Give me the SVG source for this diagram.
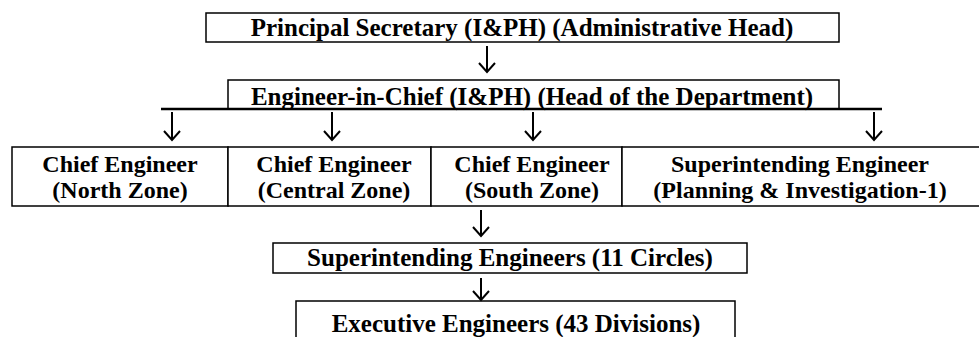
<svg xmlns="http://www.w3.org/2000/svg" width="979" height="337" viewBox="0 0 979 337">
<style>
.box{fill:#fff;stroke:#000;stroke-width:1.5}
.t{font-family:'Liberation Serif','Times New Roman','DejaVu Serif',serif;font-weight:bold;font-size:25px;fill:#000;text-anchor:middle}
.r{font-size:24px}
.arr{fill:none;stroke:#000;stroke-width:2}
</style>
<rect width="979" height="337" fill="#fff"/>
<g id="principal-secretary">
<rect class="box" x="206" y="13" width="633" height="29"/>
<text class="t" x="522" y="36">Principal Secretary (I&amp;PH) (Administrative Head)</text>
</g>
<g id="engineer-in-chief">
<rect class="box" x="228" y="80" width="611" height="29"/>
<line x1="161" y1="109" x2="882" y2="109" stroke="#000" stroke-width="2.5"/>
<text class="t" x="532" y="105">Engineer-in-Chief (I&amp;PH) (Head of the Department)</text>
</g>
<g id="ce-north">
<rect class="box" x="12" y="147" width="216" height="59"/>
<text class="t r" x="120" y="172">Chief Engineer</text>
<text class="t r" x="120" y="198">(North Zone)</text>
</g>
<g id="ce-central">
<rect class="box" x="228" y="147" width="203" height="59"/>
<text class="t r" x="334" y="172">Chief Engineer</text>
<text class="t r" x="334" y="198">(Central Zone)</text>
</g>
<g id="ce-south">
<rect class="box" x="431" y="147" width="191" height="59"/>
<text class="t r" x="532" y="172">Chief Engineer</text>
<text class="t r" x="532" y="198">(South Zone)</text>
</g>
<g id="se-planning">
<rect class="box" x="622" y="147" width="360" height="59"/>
<text class="t r" x="800" y="172">Superintending Engineer</text>
<text class="t r" x="800" y="198">(Planning &amp; Investigation-1)</text>
</g>
<g id="se-circles">
<rect class="box" x="273" y="243" width="474" height="30"/>
<text class="t" x="510" y="266">Superintending Engineers (11 Circles)</text>
</g>
<g id="ee-divisions">
<rect class="box" x="296" y="301" width="439" height="50"/>
<text class="t" x="516" y="332">Executive Engineers (43 Divisions)</text>
</g>
<g id="connectors">
<path class="arr" d="M487 46V72M479 63L487 72L495 63"/>
<path class="arr" d="M172 112V140M164 131L172 140L180 131"/>
<path class="arr" d="M332 112V140M324 131L332 140L340 131"/>
<path class="arr" d="M533 112V140M525 131L533 140L541 131"/>
<path class="arr" d="M874 112V140M866 131L874 140L882 131"/>
<path class="arr" d="M481 210V236M473 227L481 236L489 227"/>
<path class="arr" d="M481 278V300M473 291L481 300L489 291"/>
</g>
</svg>
